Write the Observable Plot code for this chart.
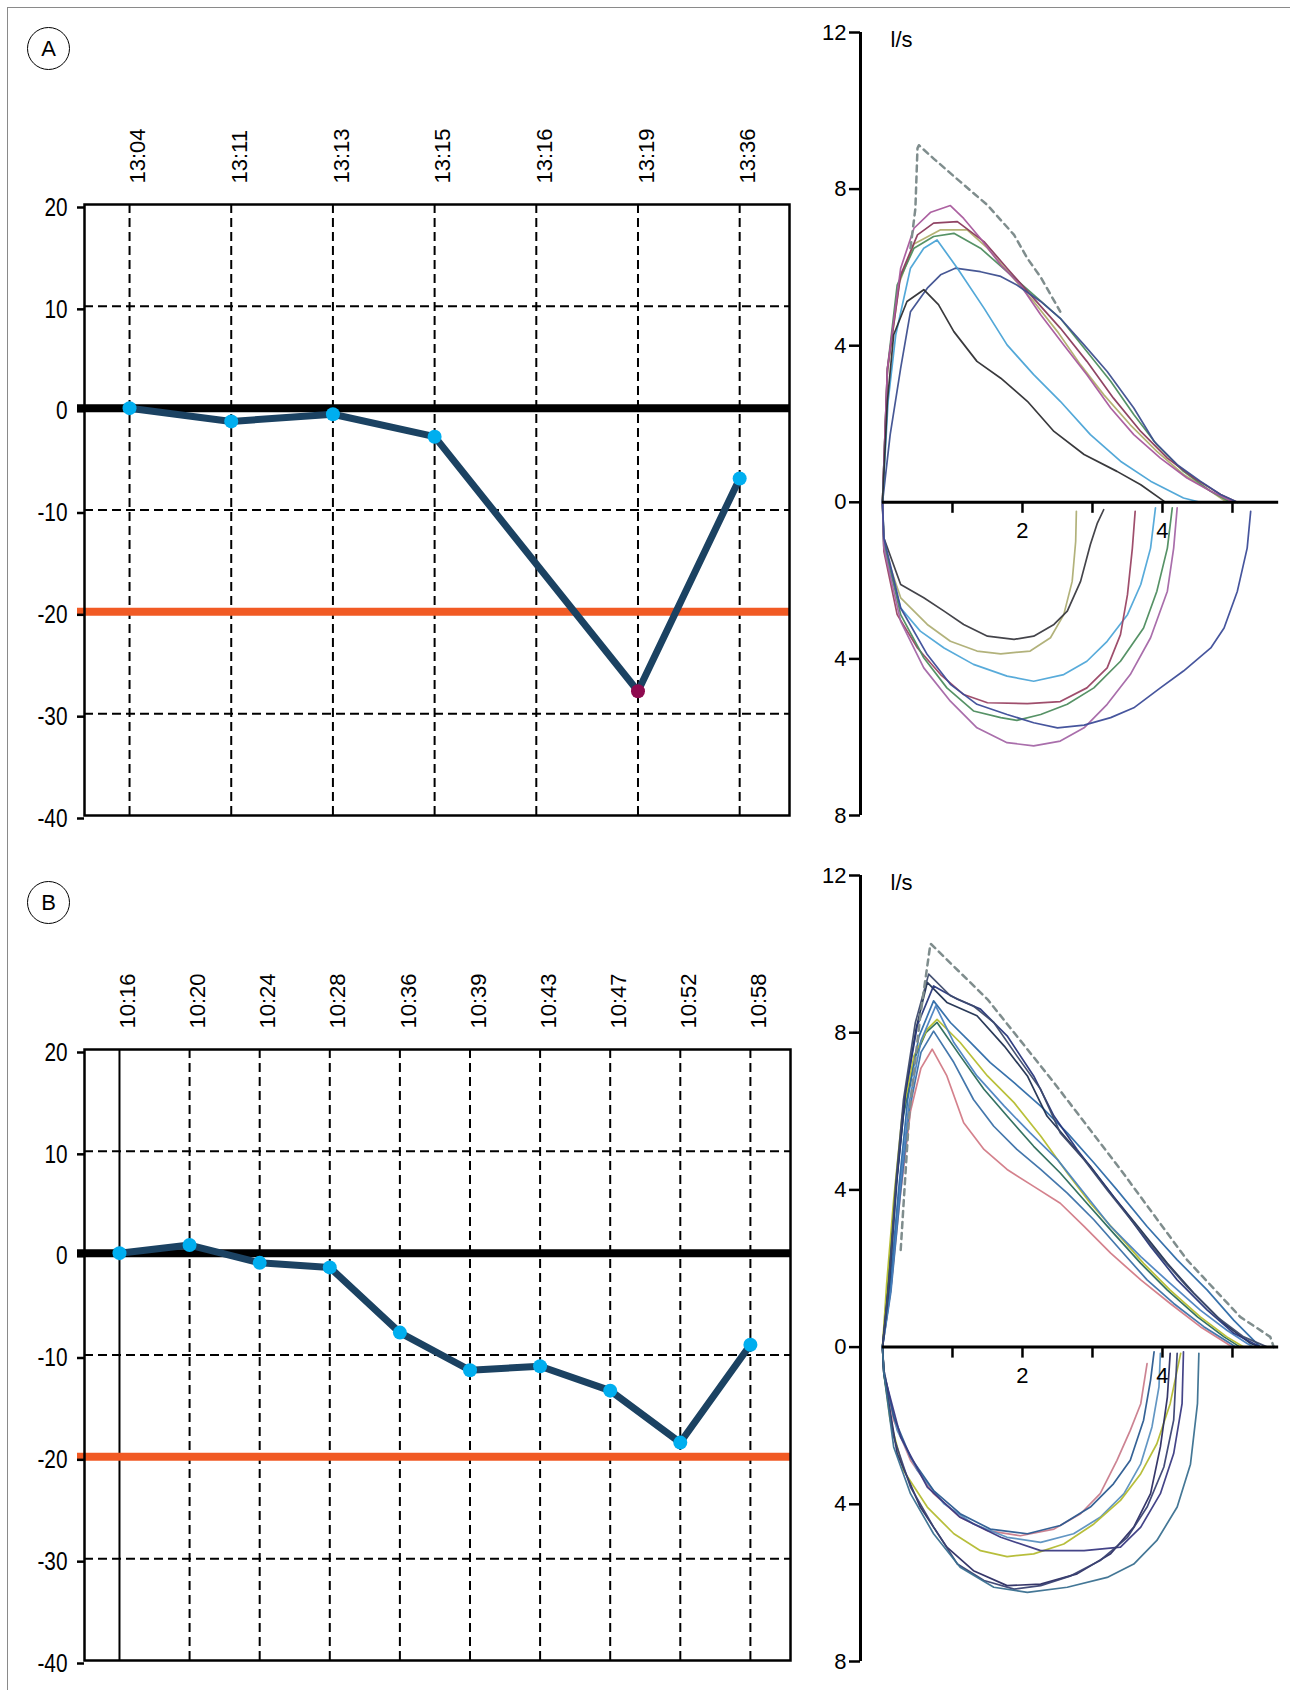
<!DOCTYPE html>
<html><head><meta charset="utf-8">
<script src="https://cdn.jsdelivr.net/npm/d3@7"></script>
<script src="https://cdn.jsdelivr.net/npm/@observablehq/plot@0.6"></script>
<style>
body{margin:0;background:#fff;}
#wrap{position:relative;width:1290px;height:1690px;overflow:hidden;background:#fff;font-family:"Liberation Sans",Arial,sans-serif;}
.border{position:absolute;left:7px;top:7px;width:1400px;height:1800px;border-top:1.5px solid #8a8a8a;border-left:1.5px solid #8a8a8a;}
.panel{position:absolute;}
.badge{position:absolute;box-sizing:border-box;width:43px;height:43px;border:1.5px solid #000;border-radius:50%;display:flex;align-items:center;justify-content:center;font-size:22px;color:#000;background:#fff;}
</style></head><body><div id="wrap">
<div class="border"></div>
<div class="panel" id="pA"></div>
<div class="panel" id="fA"></div>
<div class="panel" id="pB"></div>
<div class="panel" id="fB"></div>
<div class="badge" style="left:27px;top:27px">A</div>
<div class="badge" style="left:27px;top:881px">B</div>
</div>
<script>
// ---------- Panel data: change (%) over time ----------
const timesA = ["13:04","13:11","13:13","13:15","13:16","13:19","13:36"];
const valuesA = [0, -1.3, -0.6, -2.8, null, -27.8, -6.9];
const highlightA = ["13:19"];

const timesB = ["10:16","10:20","10:24","10:28","10:36","10:39","10:43","10:47","10:52","10:58"];
const valuesB = [0, 0.8, -0.95, -1.4, -7.8, -11.5, -11.1, -13.5, -18.6, -9.0];
const highlightB = [];

const yTicksLeft = [20, 10, 0, -10, -20, -30, -40];
const dashedGrid = [10, -10, -30];
const baseline = [0];
const threshold = [-20];

// ---------- Flow-volume loops (x: litres, y: l/s; inspiration negative) ----------
const aExpBlack = [[0,0],[0.07,2.58],[0.16,4.28],[0.35,5.13],[0.59,5.43],[0.8,5.05],[1.02,4.36],[1.35,3.6],[1.69,3.17],[2.07,2.58],[2.45,1.81],[2.88,1.22],[3.35,0.79],[3.69,0.45],[4.02,0.03]];
const aExpLightBlue = [[0,0],[0.08,2.58],[0.19,4.28],[0.4,5.98],[0.59,6.49],[0.78,6.7],[1.07,5.98],[1.45,4.96],[1.78,4.02],[2.16,3.26],[2.54,2.58],[2.97,1.73],[3.4,1.05],[3.83,0.54],[4.3,0.11],[4.54,0]];
const aExpNavy = [[0,0],[0.11,1.73],[0.26,3.43],[0.4,4.87],[0.64,5.47],[0.83,5.81],[1.04,5.98],[1.4,5.89],[1.69,5.77],[1.92,5.55],[2.26,5.13],[2.54,4.7],[2.88,4.02],[3.21,3.34],[3.59,2.41],[3.88,1.56],[4.21,0.96],[4.54,0.54],[4.83,0.2],[5.07,0]];
const aExpMagenta = [[0,0],[0.07,3.4],[0.26,5.98],[0.45,7.0],[0.69,7.41],[0.97,7.58],[1.16,7.25],[1.4,6.74],[1.69,6.06],[1.97,5.55],[2.26,4.79],[2.59,4.02],[2.92,3.26],[3.26,2.41],[3.59,1.73],[3.97,1.13],[4.35,0.62],[4.69,0.28],[5.02,0]];
const aExpMaroon = [[0,0],[0.07,3.4],[0.26,5.81],[0.5,6.83],[0.73,7.13],[1.07,7.17],[1.45,6.66],[1.78,5.98],[2.16,5.21],[2.54,4.45],[2.92,3.6],[3.3,2.66],[3.69,1.81],[4.07,1.13],[4.45,0.62],[4.83,0.2],[5.07,0]];
const aExpOlive = [[0,0],[0.07,3.3],[0.24,5.6],[0.45,6.6],[0.83,6.96],[1.21,6.96],[1.5,6.49],[1.83,5.81],[2.16,5.13],[2.5,4.36],[2.83,3.51],[3.16,2.75],[3.54,1.98],[3.92,1.3],[4.3,0.71],[4.69,0.28],[4.92,0]];
const aExpGreen = [[0,0],[0.07,3.4],[0.21,5.55],[0.45,6.49],[0.73,6.79],[1.02,6.87],[1.4,6.49],[1.78,5.89],[2.16,5.3],[2.54,4.7],[2.88,3.94],[3.26,3.09],[3.59,2.24],[3.92,1.47],[4.3,0.79],[4.69,0.28],[4.97,0]];
const aPredicted = [[0.4,6.49],[0.47,7.5],[0.5,9.04],[0.52,9.12],[0.73,8.78],[1.11,8.19],[1.5,7.59],[1.88,6.83],[2.07,6.23],[2.26,5.75],[2.54,4.87]];

const aInBlack = [[0,0],[0.02,-0.91],[0.26,-2.1],[0.59,-2.44],[0.88,-2.78],[1.16,-3.12],[1.5,-3.42],[1.88,-3.5],[2.16,-3.42],[2.45,-3.12],[2.64,-2.78],[2.83,-2.02],[2.97,-1.08],[3.07,-0.53],[3.16,-0.19]];
const aInOlive = [[0,0],[0.02,-1.17],[0.26,-2.44],[0.64,-3.12],[0.97,-3.55],[1.35,-3.8],[1.69,-3.87],[2.11,-3.8],[2.4,-3.46],[2.59,-2.87],[2.71,-2.02],[2.76,-1.0],[2.77,-0.23]];
const aInLightBlue = [[0,0],[0.02,-1.17],[0.26,-2.7],[0.54,-3.29],[0.88,-3.72],[1.3,-4.14],[1.78,-4.44],[2.16,-4.57],[2.59,-4.4],[2.92,-4.06],[3.21,-3.55],[3.5,-2.87],[3.69,-2.1],[3.83,-1.17],[3.9,-0.14]];
const aInMaroon = [[0,0],[0.02,-1.25],[0.21,-2.87],[0.5,-3.72],[0.83,-4.4],[1.16,-4.91],[1.5,-5.12],[2.07,-5.14],[2.54,-5.09],[2.92,-4.74],[3.21,-4.23],[3.4,-3.38],[3.5,-2.36],[3.57,-1.17],[3.61,-0.23]];
const aInGreen = [[0,0],[0.02,-1.0],[0.26,-2.87],[0.59,-3.97],[0.92,-4.74],[1.3,-5.33],[1.69,-5.5],[1.92,-5.57],[2.26,-5.42],[2.64,-5.16],[3.02,-4.74],[3.4,-4.06],[3.73,-3.21],[3.92,-2.27],[4.07,-1.17],[4.14,-0.14]];
const aInPurple = [[0,0],[0.02,-1.17],[0.26,-3.04],[0.59,-4.23],[0.97,-5.08],[1.35,-5.76],[1.78,-6.14],[2.16,-6.22],[2.54,-6.1],[2.88,-5.76],[3.21,-5.16],[3.54,-4.4],[3.83,-3.46],[4.07,-2.27],[4.16,-1.17],[4.21,-0.14]];
const aInNavy = [[0,0],[0.02,-0.91],[0.26,-2.7],[0.64,-3.89],[0.97,-4.65],[1.35,-5.16],[1.78,-5.42],[2.16,-5.63],[2.5,-5.76],[2.88,-5.69],[3.26,-5.5],[3.59,-5.25],[3.97,-4.74],[4.3,-4.31],[4.69,-3.72],[4.88,-3.21],[5.07,-2.27],[5.21,-1.17],[5.26,-0.23]];

const bExpSlate = [[0,0],[0.09,1.62],[0.19,4.17],[0.3,6.3],[0.47,8.26],[0.66,9.49],[0.97,8.94],[1.3,8.68],[1.59,8.26],[1.92,7.41],[2.26,6.56],[2.54,5.45],[2.88,4.77],[3.21,4.0],[3.59,3.15],[3.97,2.3],[4.35,1.54],[4.78,0.77],[5.16,0.26],[5.5,0]];
const bExpNavy = [[0,0],[0.1,1.8],[0.21,4.3],[0.33,6.5],[0.5,8.2],[0.73,9.19],[1.07,8.85],[1.4,8.6],[1.78,7.92],[2.16,6.9],[2.45,5.88],[2.78,5.03],[3.11,4.26],[3.45,3.49],[3.83,2.56],[4.21,1.71],[4.64,0.94],[5.02,0.35],[5.4,0]];
const bExpDark = [[0,0],[0.1,1.7],[0.2,4.2],[0.32,6.4],[0.48,8.1],[0.64,9.28],[0.92,8.77],[1.35,8.43],[1.74,7.66],[2.07,6.9],[2.35,5.88],[2.64,5.28],[2.97,4.6],[3.3,3.83],[3.69,2.98],[4.07,2.13],[4.45,1.37],[4.88,0.6],[5.26,0.09],[5.4,0]];
const bExpBlue = [[0,0],[0.11,1.6],[0.23,4.0],[0.36,6.3],[0.52,7.9],[0.73,8.81],[0.97,8.26],[1.26,7.75],[1.54,7.24],[1.88,6.73],[2.26,6.13],[2.64,5.45],[3.02,4.69],[3.35,4.0],[3.78,3.07],[4.21,2.22],[4.64,1.45],[5.02,0.68],[5.35,0.09],[5.4,0]];
const bExpMidBlue = [[0,0],[0.12,1.5],[0.24,3.9],[0.38,6.2],[0.55,7.8],[0.76,8.68],[1.02,7.75],[1.35,6.9],[1.74,6.13],[2.11,5.45],[2.5,4.77],[2.88,3.92],[3.26,3.07],[3.69,2.3],[4.11,1.62],[4.54,0.94],[4.92,0.43],[5.21,0.09],[5.3,0]];
const bExpYellow = [[0,0],[0.06,1.62],[0.16,3.75],[0.28,5.88],[0.45,7.41],[0.64,8.09],[0.78,8.34],[1.11,7.75],[1.5,6.9],[1.88,6.22],[2.26,5.37],[2.64,4.43],[2.97,3.66],[3.35,2.9],[3.73,2.13],[4.11,1.45],[4.54,0.77],[4.92,0.26],[5.16,0]];
const bExpTeal = [[0,0],[0.08,1.7],[0.18,3.9],[0.3,5.9],[0.47,7.4],[0.62,8.0],[0.78,8.26],[1.11,7.41],[1.45,6.56],[1.78,5.88],[2.16,5.11],[2.54,4.43],[2.92,3.66],[3.3,2.9],[3.69,2.13],[4.07,1.45],[4.5,0.77],[4.88,0.26],[5.11,0]];
const bExpSteel = [[0,0],[0.12,1.4],[0.25,3.8],[0.38,6.0],[0.55,7.5],[0.73,8.04],[1.02,7.24],[1.3,6.3],[1.59,5.62],[1.92,5.03],[2.26,4.52],[2.64,3.92],[3.02,3.24],[3.4,2.47],[3.78,1.71],[4.16,1.11],[4.59,0.52],[4.97,0.09],[5.05,0]];
const bExpPink = [[0,0],[0.12,1.5],[0.25,3.8],[0.4,6.0],[0.55,7.1],[0.71,7.58],[0.92,6.9],[1.16,5.71],[1.45,5.03],[1.78,4.52],[2.16,4.09],[2.54,3.66],[2.88,3.07],[3.26,2.39],[3.69,1.71],[4.11,1.11],[4.54,0.52],[4.92,0.09],[5.0,0]];
const bPredicted = [[0.26,2.47],[0.38,5.88],[0.54,8.43],[0.68,10.2],[0.69,10.26],[1.5,8.85],[2.45,6.73],[3.4,4.52],[4.35,2.22],[5.11,0.77],[5.54,0.26],[5.59,0]];

const bInPink = [[0,0],[0.02,-0.59],[0.16,-1.86],[0.4,-2.88],[0.73,-3.73],[1.11,-4.33],[1.5,-4.67],[1.97,-4.8],[2.45,-4.63],[2.83,-4.24],[3.11,-3.73],[3.35,-2.88],[3.54,-2.12],[3.69,-1.44],[3.78,-0.42]];
const bInBlue = [[0,0],[0.02,-0.59],[0.16,-1.78],[0.4,-2.8],[0.73,-3.65],[1.11,-4.24],[1.54,-4.63],[2.07,-4.75],[2.54,-4.54],[2.97,-4.07],[3.3,-3.48],[3.54,-2.88],[3.73,-1.86],[3.83,-0.84],[3.88,-0.12]];
const bInYellow = [[0,0],[0.02,-0.67],[0.11,-1.86],[0.3,-3.14],[0.64,-4.07],[1.02,-4.75],[1.4,-5.18],[1.78,-5.33],[2.16,-5.26],[2.59,-5.01],[3.02,-4.5],[3.4,-3.9],[3.69,-3.22],[3.92,-2.46],[4.11,-1.44],[4.26,-0.16]];
const bInNavy = [[0,0],[0.02,-0.67],[0.16,-2.29],[0.4,-3.56],[0.73,-4.58],[1.07,-5.52],[1.45,-5.94],[1.88,-6.16],[2.26,-6.07],[2.69,-5.82],[3.11,-5.43],[3.5,-4.84],[3.78,-4.07],[4.02,-3.05],[4.16,-1.86],[4.21,-0.16]];
const bInTeal = [[0,0],[0.02,-0.67],[0.16,-2.54],[0.4,-3.73],[0.73,-4.75],[1.11,-5.6],[1.59,-6.11],[2.07,-6.24],[2.64,-6.11],[3.21,-5.86],[3.59,-5.52],[3.92,-4.92],[4.21,-4.07],[4.4,-2.98],[4.5,-1.44],[4.52,-0.16]];
const bInIndigo = [[0,0],[0.02,-0.67],[0.26,-2.29],[0.64,-3.56],[1.11,-4.33],[1.69,-4.84],[2.26,-5.18],[2.88,-5.18],[3.4,-5.09],[3.69,-4.58],[3.97,-3.73],[4.16,-2.71],[4.28,-1.44],[4.3,-0.12]];
const bInDark = [[0,0],[0.02,-0.67],[0.21,-2.71],[0.54,-4.07],[0.92,-5.09],[1.3,-5.69],[1.78,-6.07],[2.26,-6.03],[2.78,-5.77],[3.26,-5.26],[3.59,-4.58],[3.83,-3.73],[3.97,-2.54],[4.07,-1.27],[4.11,-0.16]];
const bInLight = [[0,0],[0.02,-0.67],[0.21,-2.12],[0.5,-3.14],[0.88,-3.99],[1.3,-4.5],[1.78,-4.84],[2.26,-4.97],[2.73,-4.75],[3.11,-4.33],[3.45,-3.73],[3.69,-2.97],[3.85,-2.03],[3.95,-1.01],[3.97,-0.16]];

const loopYTicks = [12, 8, 4, 0, -4, -8];
const loopXTicks = [1, 2, 3, 4, 5];
const loopXLabels = [2, 4];
const loopXAxisExtent = [0, 5.66];

const curvesA = [
  ["aInOlive", "#aeae74", aInOlive], ["aInBlack", "#3a3a40", aInBlack], ["aInLightBlue", "#4fa6d8", aInLightBlue],
  ["aInMaroon", "#9a4464", aInMaroon], ["aInGreen", "#4d8c5e", aInGreen], ["aInPurple", "#a466a6", aInPurple],
  ["aInNavy", "#3c4c98", aInNavy],
  ["aExpOlive", "#b0ae6c", aExpOlive], ["aExpGreen", "#4d8c5e", aExpGreen], ["aExpMaroon", "#8a3a5c", aExpMaroon],
  ["aExpMagenta", "#a8589c", aExpMagenta], ["aExpNavy", "#3d4f8f", aExpNavy], ["aExpLightBlue", "#4aa3d6", aExpLightBlue],
  ["aExpBlack", "#2e2e32", aExpBlack]
];
const curvesB = [
  ["bInPink", "#c97c8c", bInPink], ["bInLight", "#5a90c0", bInLight], ["bInBlue", "#2a5a90", bInBlue],
  ["bInYellow", "#b3ba30", bInYellow], ["bInIndigo", "#3a3a82", bInIndigo], ["bInDark", "#2b2c62", bInDark],
  ["bInNavy", "#3a4272", bInNavy], ["bInTeal", "#3a7090", bInTeal],
  ["bExpPink", "#d27a86", bExpPink], ["bExpSteel", "#3a70a8", bExpSteel], ["bExpTeal", "#2a6a5a", bExpTeal],
  ["bExpYellow", "#b5bd2e", bExpYellow], ["bExpMidBlue", "#4a82c0", bExpMidBlue], ["bExpBlue", "#2d6aa8", bExpBlue],
  ["bExpDark", "#1f2f4f", bExpDark], ["bExpNavy", "#27367a", bExpNavy], ["bExpSlate", "#3d4a6b", bExpSlate]
];

const regularFont = "'Liberation Sans', Arial, Helvetica, sans-serif";

function timePlot({times, values, highlight, xDomain, marginRight, solidFirst}) {
  const rows = times.map((t, i) => ({i, t, v: values[i], hi: highlight.includes(t)}));
  const pts = rows.filter(d => d.v != null);
  const idx = rows.map(d => d.i);
  const dashedIdx = solidFirst ? idx.slice(1) : idx;
  const solidIdx = solidFirst ? idx.slice(0, 1) : [];
  return Plot.plot({
    width: 800, height: 830,
    marginLeft: 84, marginRight, marginTop: 204, marginBottom: 15,
    x: {domain: xDomain, axis: null},
    y: {domain: [-40, 20], axis: null},
    style: {fontFamily: regularFont, fontSize: "22px", color: "#000", background: "transparent", overflow: "visible"},
    marks: [
      Plot.ruleX(dashedIdx, {x: d => d, stroke: "#000", strokeWidth: 2, strokeDasharray: "9,5"}),
      Plot.ruleX(solidIdx, {x: d => d, stroke: "#000", strokeWidth: 2}),
      Plot.ruleY(dashedGrid, {y: d => d, stroke: "#000", strokeWidth: 2, strokeDasharray: "9,5"}),
      Plot.ruleY(threshold, {y: d => d, stroke: "#f15a24", strokeWidth: 8, insetLeft: -7}),
      Plot.ruleY(baseline, {y: d => d, stroke: "#000", strokeWidth: 8, insetLeft: -7}),
      Plot.frame({stroke: "#000", strokeWidth: 2.5}),
      Plot.axisY(yTicksLeft, {anchor: "left", label: null, tickSize: 7, tickPadding: 10, strokeWidth: 2.5,
        tickFormat: d => String(d), fontSize: 26, dy: 3}),
      Plot.text(rows, {x: "i", text: "t", frameAnchor: "top", rotate: -90, textAnchor: "start", dy: -21, fontSize: 22}),
      Plot.line(pts, {x: "i", y: "v", stroke: "#1b4262", strokeWidth: 7, strokeLinejoin: "round", strokeLinecap: "round"}),
      Plot.dot(pts.filter(d => !d.hi), {x: "i", y: "v", r: 7, fill: "#00aeef"}),
      Plot.dot(pts.filter(d => d.hi), {x: "i", y: "v", r: 7, fill: "#8e0a4f"})
    ]
  });
}

function loopPlot({curves, predicted, height, marginTop, marginBottom}) {
  const rows = curves.flatMap(([id, color, pts]) => pts.map(([x, y]) => ({id, color, x, y})));
  const pred = predicted.map(([x, y]) => ({x, y}));
  const xDomain = [-0.314, 5.829];
  return Plot.plot({
    width: 490, height, marginLeft: 60, marginRight: 0, marginTop, marginBottom,
    x: {domain: xDomain, axis: null},
    y: {domain: [-8, 12], axis: null},
    color: {type: "identity"},
    style: {fontFamily: regularFont, fontSize: "22px", color: "#000", background: "transparent", overflow: "visible"},
    marks: [
      Plot.line(rows, {x: "x", y: "y", z: "id", stroke: "color", strokeWidth: 1.7, strokeOpacity: 0.95, strokeLinejoin: "round"}),
      Plot.line(pred, {x: "x", y: "y", stroke: "#7f8d8d", strokeWidth: 2.5, strokeDasharray: "6,5"}),
      Plot.ruleX([xDomain[0]], {x: d => d, y1: -8, y2: 12, stroke: "#000", strokeWidth: 3}),
      Plot.axisY(loopYTicks, {anchor: "left", label: null, tickSize: 11, tickPadding: 3, strokeWidth: 2.5,
        tickFormat: d => String(Math.abs(d)), fontSize: 22}),
      Plot.ruleY([0], {y: d => d, x1: loopXAxisExtent[0], x2: loopXAxisExtent[1], stroke: "#000", strokeWidth: 3}),
      Plot.ruleX(loopXTicks, {x: d => d, y1: 0, y2: 0, insetBottom: -11, stroke: "#000", strokeWidth: 2.5}),
      Plot.text(loopXLabels, {x: d => d, y: 0, dy: 29, text: d => String(d), fontSize: 22}),
      Plot.text(["l/s"], {frameAnchor: "top-left", dx: 30, dy: -1, lineAnchor: "top", textAnchor: "start", text: d => d, fontSize: 22})
    ]
  });
}

function place(id, node, left, top) {
  const el = document.getElementById(id);
  el.style.left = left + "px";
  el.style.top = top + "px";
  el.appendChild(node);
  return node;
}

// narrow the left-hand y tick labels (the original uses a condensed face)
function condenseYLabels(svg) {
  d3.select(svg).selectAll('g[aria-label="y-axis tick label"] text').each(function () {
    const w = this.getComputedTextLength();
    this.setAttribute("textLength", (w * 0.8).toFixed(1));
    this.setAttribute("lengthAdjust", "spacingAndGlyphs");
  });
}

const svgA = place("pA", timePlot({times: timesA, values: valuesA, highlight: highlightA, xDomain: [-0.443, 6.49], marginRight: 11, solidFirst: false}), 0, 0);
const svgB = place("pB", timePlot({times: timesB, values: valuesB, highlight: highlightB, xDomain: [-0.499, 9.572], marginRight: 10, solidFirst: true}), 0, 845);
place("fA", loopPlot({curves: curvesA, predicted: aPredicted, height: 830, marginTop: 32, marginBottom: 15}), 800, 0);
place("fB", loopPlot({curves: curvesB, predicted: bPredicted, height: 835, marginTop: 30, marginBottom: 19}), 800, 845);
condenseYLabels(svgA);
condenseYLabels(svgB);
</script>
</body></html>
